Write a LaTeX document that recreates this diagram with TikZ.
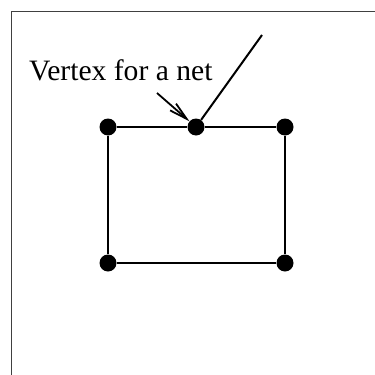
\documentclass[tikz,border=0pt]{standalone}
\usepackage{fontspec}
\setmainfont{Liberation Serif}
\usepackage{tikz}
\usetikzlibrary{arrows.meta,positioning}
\tikzset{
  vtx/.style  ={circle,fill=black,draw=none,minimum size=17pt,inner sep=0pt},
  edg/.style  ={line width=2pt},
  sig/.style  ={-{Straight Barb[length=18pt,width=9pt,line width=1.8pt]},line width=1.8pt},
  lbl/.style  ={font=\fontsize{29.6}{35}\selectfont,inner sep=0pt,anchor=base west},
  frm/.style  ={draw=black!75,line width=1pt},
}

\begin{document}
\begin{tikzpicture}[x=1pt,y=-1pt]
  \useasboundingbox (0,0) rectangle (375,375);
  % frame
  \draw[frm] (375,11) -- (11,11) -- (11,375);
  % vertices
  \node[vtx] (tl) at (108,127) {};
  \node[vtx] (tm) at (196,127) {};
  \node[vtx] (tr) at (285,127) {};
  \node[vtx] (bl) at (108,263) {};
  \node[vtx] (br) at (285,263) {};
  % label
  \node[lbl] (lbl) at (29,80) {Vertex for a net};
  \coordinate (from) at (157,93);
  \coordinate (net)  at (262,35);
  % edges
  \draw[edg] (tl) -- (tm) -- (tr) -- (br) -- (bl) -- (tl);
  \draw[edg] (tm) -- (net);
  % pointer to the vertex
  \draw[sig] (from) -- (tm);
\end{tikzpicture}
\end{document}
